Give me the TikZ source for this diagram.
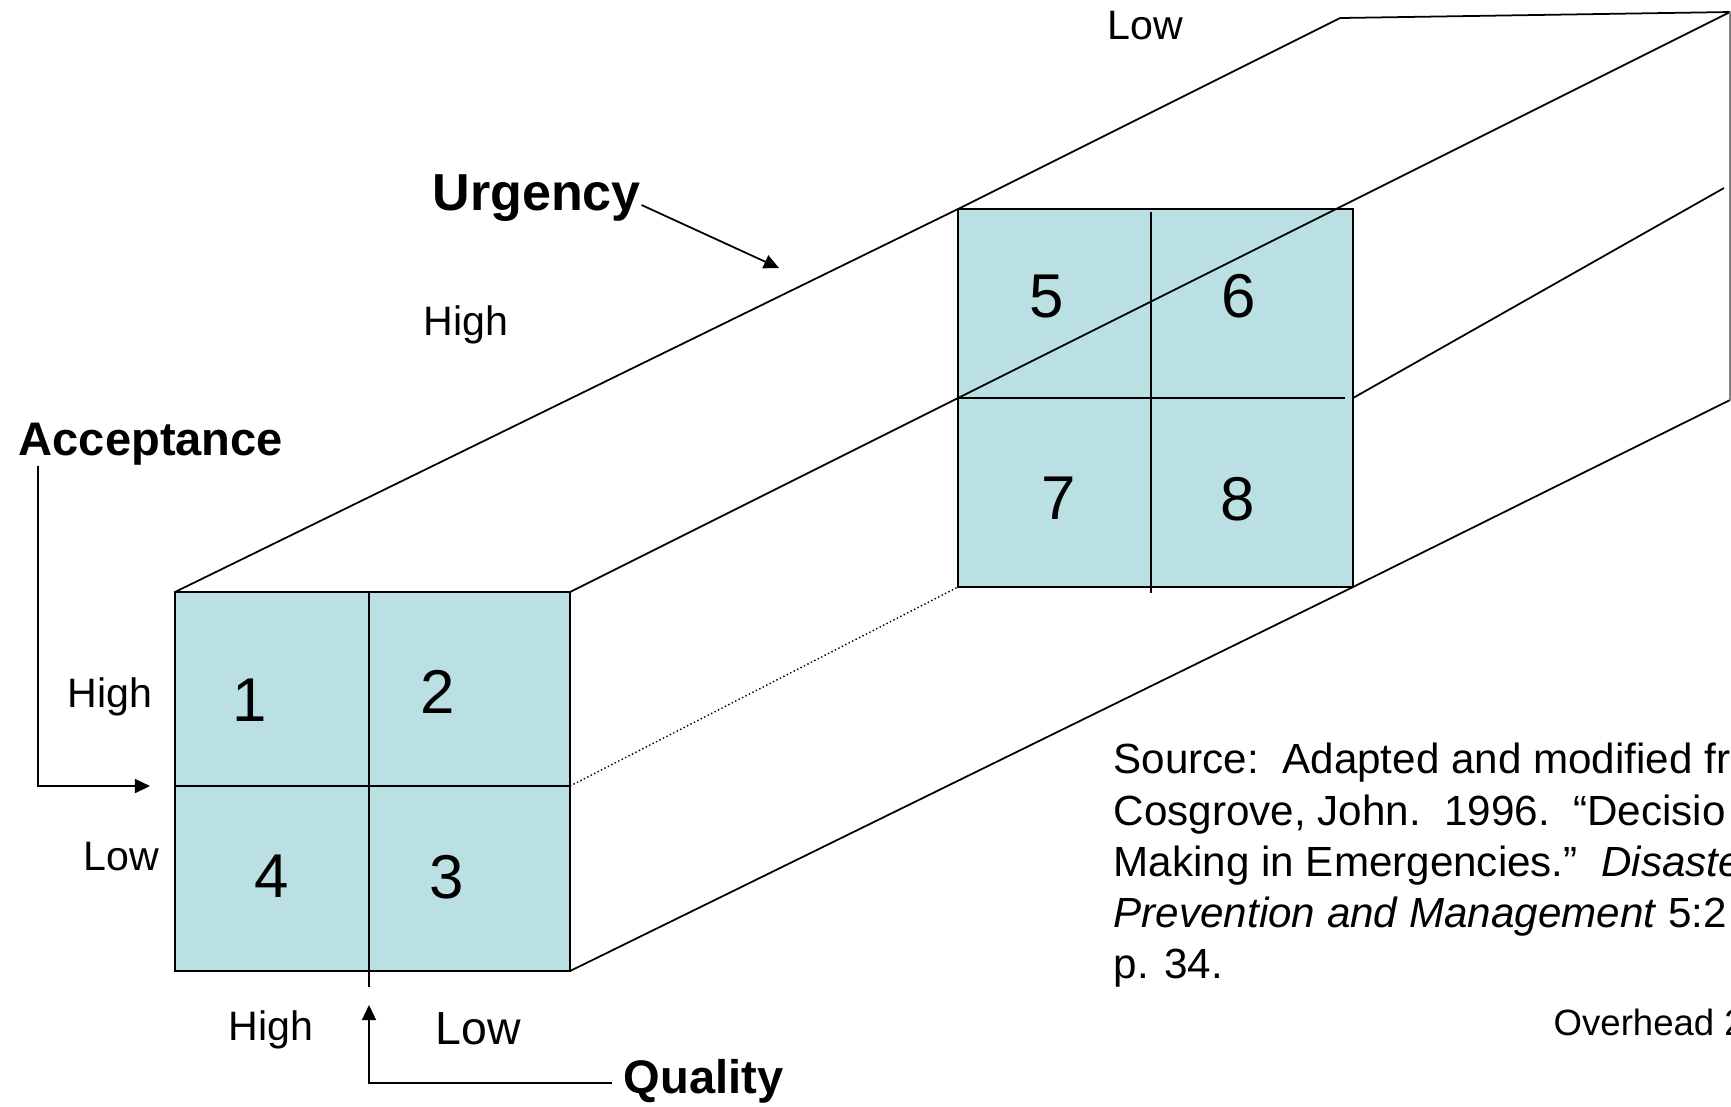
\documentclass[tikz,border=0pt]{standalone}
\usepackage{fontspec}
\setmainfont{Liberation Sans}
\usetikzlibrary{arrows.meta}

\definecolor{cellfill}{RGB}{187,224,228}

\tikzset{
  edge/.style={line width=0.5pt},
  frame/.style={line width=0.6pt},
  hidden/.style={line width=0.4pt, dash pattern=on 0.4pt off 0.7pt},
  pointer/.style={line width=0.5pt, -{Triangle[length=4.3pt,width=4pt]}},
  level/.style={font=\fontsize{11.7}{14}\selectfont, inner sep=0pt, anchor=base west},
  factor/.style={font=\fontsize{13.4}{16}\selectfont\bfseries, inner sep=0pt, anchor=base west},
  cellnum/.style={font=\fontsize{17.6}{20}\selectfont, inner sep=0pt, anchor=base},
  source/.style={font=\fontsize{12}{14.6}\selectfont, inner sep=0pt, anchor=base west},
}

\begin{document}
\begin{tikzpicture}[x=0.1mm,y=-0.1mm]
\useasboundingbox (0,0) rectangle (1731,1106);
\clip (0,0) rectangle (1731,1106);
\fill [white] (0,0) rectangle (1731,1106);

% the two cross sections
\fill [cellfill] (175,592) rectangle (570,971);
\fill [cellfill] (958,209) rectangle (1353,587);

% corners of the box
\coordinate (fTL) at (175,592);
\coordinate (fTR) at (570,592);
\coordinate (fR)  at (570,786);
\coordinate (fBR) at (570,971);
\coordinate (bTL) at (958,209);
\coordinate (bL)  at (958,398);
\coordinate (bBL) at (958,587);
\coordinate (bR)  at (1353,398);
\coordinate (bBR) at (1353,587);
\coordinate (eTL) at (1340,18);
\coordinate (eTR) at (1730,12);
\coordinate (eR)  at (1724,188);
\coordinate (eBR) at (1730,400);

\draw[edge] (fTL) -- (bTL) -- (eTL) -- (eTR);
\draw[edge] (fTR) -- (bL) -- (eTR);
\draw[edge] (fBR) -- (bBR) -- (eBR);
\draw[edge] (bR) -- (eR);
\draw[hidden] (fR) -- (bBL);
\draw[gray, line width=0.4pt] (eTR) -- (eBR);

% front grid
\draw[frame] (fTL) rectangle (fBR);
\draw[edge] (175,786) -- (fR);
\draw[edge] (369,592) -- (369,987);
% back grid
\draw[frame] (bTL) rectangle (bBR);
\draw[edge] (bL) -- (1345,398);
\draw[edge] (1151,212) -- (1151,593);

\node[cellnum] (n1) at (250,721) {1};
\node[cellnum] (n2) at (438,713) {2};
\node[cellnum] (n3) at (447,898) {3};
\node[cellnum] (n4) at (272,897) {4};
\node[cellnum] (n5) at (1047,317) {5};
\node[cellnum] (n6) at (1239,317) {6};
\node[cellnum] (n7) at (1059,519) {7};
\node[cellnum] (n8) at (1238,520) {8};

% factors
\node[factor] (accept) at (18,455) {Acceptance};
\node[factor, font=\fontsize{14.8}{17}\selectfont\bfseries] (urgency) at (432,210) {Urgency};
\node[factor] (quality) at (623,1093) {Quality};

\node[level] (accHigh) at (67,707) {High};
\node[level] (accLow) at (83,870) {Low};
\node[level] (urgHigh) at (423,335) {High};
\node[level] (urgLow) at (1107,39) {Low};
\node[level] (qualHigh) at (228,1040) {High};
\node[level, font=\fontsize{13.2}{16}\selectfont] (qualLow) at (435,1044) {Low};

\coordinate (accTo) at (150,786);
\coordinate (urgTo) at (779,268);
\coordinate (qualTo) at (369,1005);
\draw[pointer] ([xshift=2mm]accept.south west) |- (accTo);
\draw[pointer] ([yshift=0.5mm]urgency.base east) -- (urgTo);
\draw[pointer] ([shift={(-1.1mm,1mm)}]quality.base west) -| (qualTo);

% reference
\node[source] (src1) at (1113,773) {Source:\ \ Adapted and modified fr};
\node[source] (src2) at (1113,825) {Cosgrove, John.\ \ 1996.\ \ “Decisio};
\node[source] (src3) at (1113,876) {Making in Emergencies.”\ \ \textit{Disaste}};
\node[source] (src4) at (1113,927) {\textit{Prevention and Management} 5:2};
\node[source] (src5) at (1113,978) {p. 34.};
\node[source, font=\fontsize{10.4}{12}\selectfont] (overhead) at (1553,1035) {Overhead 2};
\end{tikzpicture}
\end{document}
